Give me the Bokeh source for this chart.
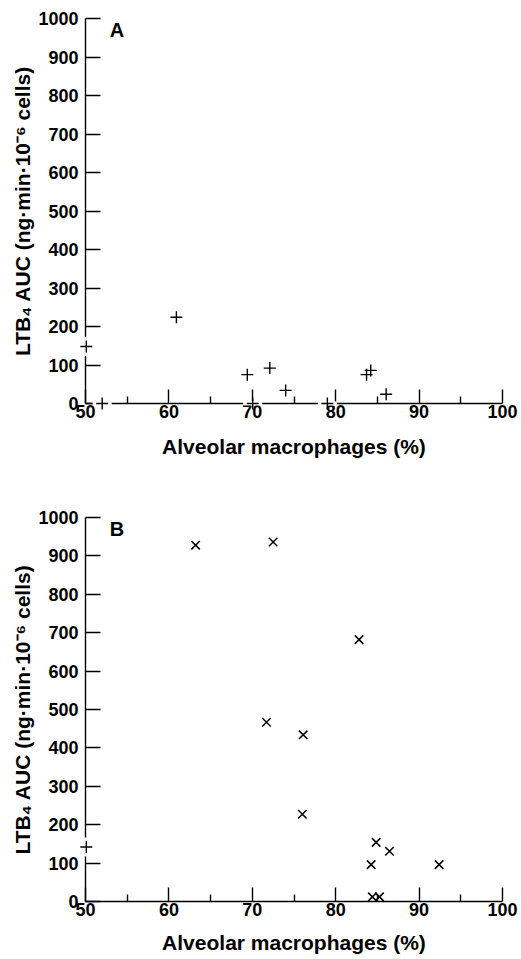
import math
from bokeh.plotting import figure
from bokeh.layouts import column
from bokeh.models import Range1d, FixedTicker
from bokeh.embed import file_html
from bokeh.resources import INLINE
from bokeh.core.properties import value

# ---- data ----
x_ticks = [50, 60, 70, 80, 90, 100]
x_minor_ticks = [55, 65, 75, 85, 95]
y_ticks = [0, 100, 200, 300, 400, 500, 600, 700, 800, 900, 1000]
x_title = "Alveolar macrophages (%)"
y_title = "LTB\u2084 AUC (ng\u00b7min\u00b710\u207b\u2076 cells)"

# Panel A (+ markers)
a_plus_x = [50.1, 52.0, 60.9, 69.4, 70.05, 72.1, 74.0, 79.0, 83.7, 84.2, 86.05]
a_plus_y = [148, 0, 224, 75, 0, 92, 34, 0, 75, 86, 24]

# Panel B (+ marker and x markers)
b_plus_x = [50.1]
b_plus_y = [142]
b_x_x = [63.2, 72.5, 82.8, 71.7, 76.1, 76.0, 84.85, 86.45, 84.25, 92.4, 84.4, 85.25]
b_x_y = [928, 936, 682, 467, 434, 227, 154, 131, 96, 96, 12, 12]

FONT = "Liberation Sans"
X0, X1, Y0, Y1 = 50, 100, 0, 1000


def make_panel(height, top, bottom, title_standoff, letter, plus_x, plus_y, x_x, x_y):
    p = figure(width=519, height=height,
               x_range=Range1d(X0, X1), y_range=Range1d(Y0, Y1),
               output_backend="svg", toolbar_location=None,
               min_border_left=85, min_border_right=17,
               min_border_top=top, min_border_bottom=bottom)
    p.outline_line_color = None
    p.grid.visible = False
    p.background_fill_color = "white"
    p.border_fill_color = "white"

    xa = p.xaxis[0]
    xa.ticker = FixedTicker(ticks=x_ticks, minor_ticks=x_minor_ticks)
    xa.major_tick_in = 14
    xa.major_tick_out = 0
    xa.minor_tick_in = 7
    xa.minor_tick_out = 0
    xa.axis_line_width = 1.4
    xa.major_tick_line_width = 1.4
    xa.minor_tick_line_width = 1.4
    xa.axis_line_color = "black"
    xa.major_tick_line_color = "black"
    xa.minor_tick_line_color = "black"
    xa.major_label_text_font = FONT
    xa.major_label_text_font_style = "bold"
    xa.major_label_text_font_size = "18px"
    xa.major_label_text_color = "black"
    xa.major_label_standoff = 1
    xa.axis_label = x_title
    xa.axis_label_text_font = FONT
    xa.axis_label_text_font_style = "bold"
    xa.axis_label_text_font_size = "21px"
    xa.axis_label_text_color = "black"
    xa.axis_label_standoff = title_standoff

    ya = p.yaxis[0]
    ya.ticker = FixedTicker(ticks=y_ticks, minor_ticks=[])
    ya.major_tick_in = 15
    ya.major_tick_out = 0
    ya.minor_tick_in = 0
    ya.minor_tick_out = 0
    ya.axis_line_width = 1.4
    ya.major_tick_line_width = 1.4
    ya.axis_line_color = "black"
    ya.major_tick_line_color = "black"
    ya.major_label_text_font = FONT
    ya.major_label_text_font_style = "bold"
    ya.major_label_text_font_size = "18px"
    ya.major_label_text_color = "black"
    ya.major_label_standoff = 7
    ya.axis_label = y_title
    ya.axis_label_text_font = FONT
    ya.axis_label_text_font_style = "bold"
    ya.axis_label_text_font_size = "21px"
    ya.axis_label_text_color = "black"
    ya.axis_label_standoff = 1

    # panel letter
    p.text(x=[52.9], y=[971], text=[letter], text_font=value(FONT),
           text_font_style="bold", text_font_size="20px", text_color="black",
           text_align="left", text_baseline="middle")

    # white gaps where plus markers sit on the axis lines
    hx = [x for x, y in zip(plus_x, plus_y) if y <= Y0]
    hy = [y for x, y in zip(plus_x, plus_y) if y <= Y0]
    vx = [x for x, y in zip(plus_x, plus_y) if x <= X0 + 0.5]
    vy = [y for x, y in zip(plus_x, plus_y) if x <= X0 + 0.5]
    if hx:
        p.scatter(hx, hy, marker="dash", size=19, line_width=4,
                  line_color="white", fill_color=None, level="overlay")
    if vx:
        p.scatter(vx, vy, marker="dash", angle=math.pi / 2, size=19, line_width=4,
                  line_color="white", fill_color=None, level="overlay")

    if plus_x:
        p.scatter(plus_x, plus_y, marker="cross", size=12, line_width=1.4,
                  line_color="black", fill_color=None, level="overlay")
    if x_x:
        p.scatter(x_x, x_y, marker="x", size=12, line_width=1.5,
                  line_color="black", fill_color=None, level="overlay")
    return p


pa = make_panel(480, 18, 77, 14, "A", a_plus_x, a_plus_y, [], [])
pb = make_panel(479, 37, 58, 12, "B", b_plus_x, b_plus_y, b_x_x, b_x_y)

layout = column(pa, pb, spacing=0)
open("out.html", "w").write(file_html(layout, INLINE))
